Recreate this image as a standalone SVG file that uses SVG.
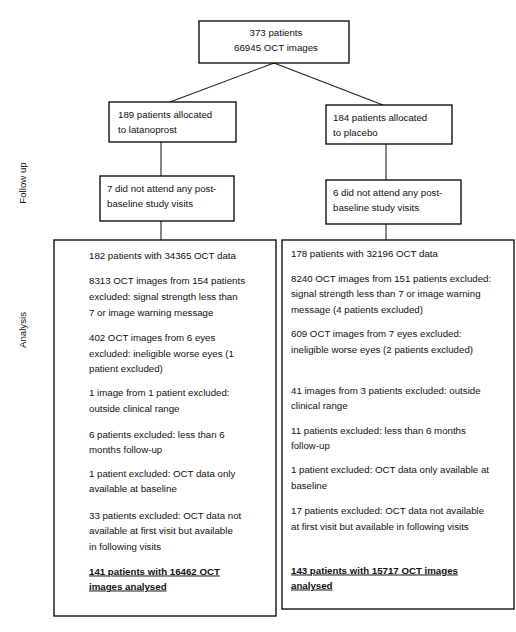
<svg xmlns="http://www.w3.org/2000/svg" width="516" height="632" viewBox="0 0 516 632">
<style>
.box{fill:#fff;stroke:#000;stroke-width:1.3}
.t{font-family:"Liberation Sans",Arial,sans-serif;font-size:9.7px;fill:#111}
.c{text-anchor:middle}
.u{font-weight:bold;text-decoration:underline}
.con{stroke:#222;stroke-width:1.1;fill:none}
</style>
<rect width="516" height="632" fill="#fff"/>
<g id="connectors">
<line class="con" x1="274" y1="63" x2="170" y2="102"/>
<line class="con" x1="274" y1="63" x2="383" y2="105"/>
<line class="con" x1="161" y1="142" x2="161" y2="176"/>
<line class="con" x1="161" y1="221" x2="161" y2="240"/>
<line class="con" x1="386" y1="144" x2="386" y2="180"/>
<line class="con" x1="386" y1="224" x2="386" y2="240"/>
</g>
<g id="label-followup"><text class="t c" transform="translate(26,183) rotate(-90)">Follow up</text></g>
<g id="label-analysis"><text class="t c" transform="translate(26,330) rotate(-90)">Analysis</text></g>
<g id="n-total">
<rect class="box" x="199" y="21" width="150" height="42"/>
<text class="t c" x="276" y="35.5">373 patients</text>
<text class="t c" x="276" y="50.5">66945 OCT images</text>
</g>
<g id="n-latanoprost">
<rect class="box" x="109" y="102" width="127" height="40"/>
<text class="t" x="118" y="117.5">189 patients allocated</text>
<text class="t" x="118" y="132.5">to latanoprost</text>
</g>
<g id="n-placebo">
<rect class="box" x="326" y="105" width="126" height="39"/>
<text class="t" x="333" y="120.5">184 patients allocated</text>
<text class="t" x="333" y="135.5">to placebo</text>
</g>
<g id="n-lat-noattend">
<rect class="box" x="100" y="176" width="134" height="45"/>
<text class="t" x="107" y="191.5">7 did not attend any post-</text>
<text class="t" x="107" y="206.5">baseline study visits</text>
</g>
<g id="n-pla-noattend">
<rect class="box" x="326" y="180" width="135" height="44"/>
<text class="t" x="333" y="195.5">6 did not attend any post-</text>
<text class="t" x="333" y="210.5">baseline study visits</text>
</g>
<g id="n-lat-analysis">
<rect class="box" x="54" y="240" width="222" height="376"/>
<text class="t" x="89" y="258.5">182 patients with 34365 OCT data</text>
<text class="t" x="89" y="283.5">8313 OCT images from 154 patients</text>
<text class="t" x="89" y="299.5">excluded: signal strength less than</text>
<text class="t" x="89" y="315.5">7 or image warning message</text>
<text class="t" x="89" y="340.5">402 OCT images from 6 eyes</text>
<text class="t" x="89" y="356.5">excluded: ineligible worse eyes (1</text>
<text class="t" x="89" y="371.5">patient excluded)</text>
<text class="t" x="89" y="395.5">1 image from 1 patient excluded:</text>
<text class="t" x="89" y="411.5">outside clinical range</text>
<text class="t" x="89" y="437.5">6 patients excluded: less than 6</text>
<text class="t" x="89" y="452.5">months follow-up</text>
<text class="t" x="89" y="476.5">1 patient excluded: OCT data only</text>
<text class="t" x="89" y="491.5">available at baseline</text>
<text class="t" x="89" y="518.5">33 patients excluded: OCT data not</text>
<text class="t" x="89" y="533.5">available at first visit but available</text>
<text class="t" x="89" y="549.5">in following visits</text>
<text class="t u" x="89" y="574.5">141 patients with 16462 OCT</text>
<text class="t u" x="89" y="589.5">images analysed</text>
</g>
<g id="n-pla-analysis">
<rect class="box" x="282" y="240" width="232" height="369"/>
<text class="t" x="291" y="256.5">178 patients with 32196 OCT data</text>
<text class="t" x="291" y="281.5">8240 OCT images from 151 patients excluded:</text>
<text class="t" x="291" y="296.5">signal strength less than 7 or image warning</text>
<text class="t" x="291" y="312.5">message (4 patients excluded)</text>
<text class="t" x="291" y="336.5">609 OCT images from 7 eyes excluded:</text>
<text class="t" x="291" y="352.5">ineligible worse eyes (2 patients excluded)</text>
<text class="t" x="291" y="393.5">41 images from 3 patients excluded: outside</text>
<text class="t" x="291" y="408.5">clinical range</text>
<text class="t" x="291" y="433.5">11 patients excluded: less than 6 months</text>
<text class="t" x="291" y="448.5">follow-up</text>
<text class="t" x="291" y="472.5">1 patient excluded: OCT data only available at</text>
<text class="t" x="291" y="488.5">baseline</text>
<text class="t" x="291" y="513.5">17 patients excluded: OCT data not available</text>
<text class="t" x="291" y="529.5">at first visit but available in following visits</text>
<text class="t u" x="291" y="573.5">143 patients with 15717 OCT images</text>
<text class="t u" x="291" y="588.5">analysed</text>
</g>
</svg>
